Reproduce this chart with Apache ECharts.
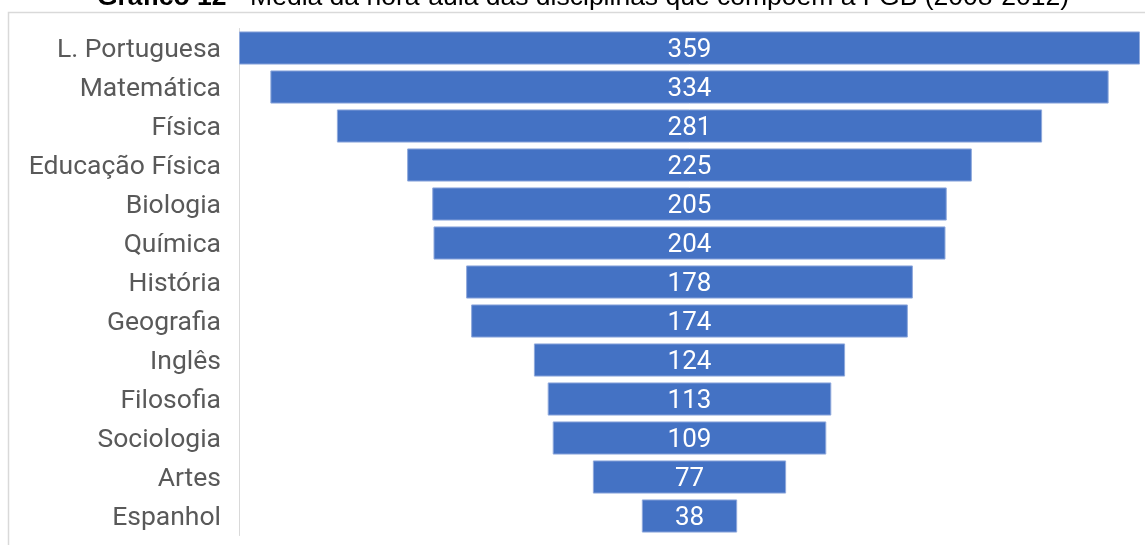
<!DOCTYPE html>
<html><head><meta charset="utf-8">
<script src="https://cdn.jsdelivr.net/npm/echarts@6/dist/echarts.min.js"></script>
<style>html,body{margin:0;padding:0;background:#fff}#c{width:1145px;height:545px}</style>
</head><body><div id="c"></div>
<script>
const categories = ["L. Portuguesa","Matemática","Física","Educação Física","Biologia","Química","História","Geografia","Inglês","Filosofia","Sociologia","Artes","Espanhol"];
const values = [359,334,281,225,205,204,178,174,124,113,109,77,38];
const titleBold = "Gráfico 12";
const titleRest = " - Média da hora-aula das disciplinas que compõem a FGB (2008-2012)";

const maxV = Math.max(...values);
const offsets = values.map(v => (maxV - v) / 2);

const chart = echarts.init(document.getElementById('c'));
chart.setOption({
  animation: false,
  title: {
    text: '{b|' + titleBold + '}{n|' + titleRest + '}',
    left: 583, textAlign: 'center', top: -16, padding: 0,
    textStyle: { fontWeight: 'normal', rich: {
      b: { fontFamily: 'Liberation Sans, Arial', fontSize: 26.5, fontWeight: 'bold', color: '#000' },
      n: { fontFamily: 'Liberation Sans, Arial', fontSize: 26.5, fontWeight: 'normal', color: '#000' }
    } }
  },
  graphic: [{
    type: 'rect', shape: { x: 8.5, y: 12.5, width: 1160, height: 560 },
    style: { fill: 'none', stroke: '#d9d9d9', lineWidth: 1.5 }, silent: true, z: -1
  }],
  grid: { left: 239, right: 5, top: 28.5, bottom: 9.5 },
  xAxis: { type: 'value', min: 0, max: maxV, show: false },
  yAxis: {
    type: 'category', data: categories, inverse: true,
    axisLine: { show: true, lineStyle: { color: '#d9d9d9', width: 1 } },
    axisTick: { show: false },
    axisLabel: {
      margin: 18,
      formatter: v => '{a|' + v + '}',
      rich: { a: { color: '#595959', fontSize: 26.5, fontFamily: 'Roboto, Arial', padding: [5, 0, 0, 0] } }
    }
  },
  series: [
    { type: 'bar', stack: 's', data: offsets, itemStyle: { color: 'transparent' }, barWidth: '85%', silent: true },
    { type: 'bar', stack: 's', data: values, barWidth: '85%',
      itemStyle: { color: '#4472C4', borderColor: '#8fa9dc', borderWidth: 1 },
      label: { show: true, position: 'inside', color: '#fff', fontSize: 26, fontFamily: 'Roboto, Arial', offset: [0, 2] } }
  ]
});
</script></body></html>
